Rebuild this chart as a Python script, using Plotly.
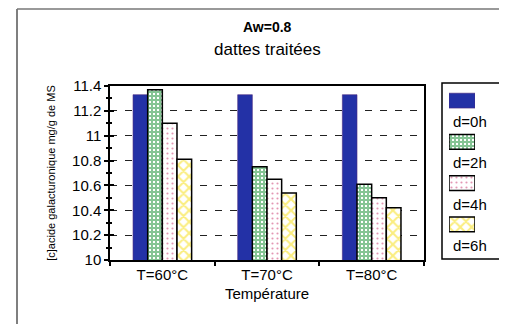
import plotly.graph_objects as go

categories = ["T=60°C", "T=70°C", "T=80°C"]
series_names = ["d=0h", "d=2h", "d=4h", "d=6h"]
values_d0 = [11.33, 11.33, 11.33]
values_d2 = [11.37, 10.75, 10.61]
values_d4 = [11.10, 10.65, 10.50]
values_d6 = [10.81, 10.54, 10.42]
series_values = [values_d0, values_d2, values_d4, values_d6]
y_tick_vals = [10, 10.2, 10.4, 10.6, 10.8, 11, 11.2, 11.4]
y_tick_text = ["10", "10.2", "10.4", "10.6", "10.8", "11", "11.2", "11.4"]

FONT = "Arial, Liberation Sans, sans-serif"

styles = [
    dict(color="#2331a6", line=dict(color="#4a2a80", width=0.6)),
    dict(color="#0c8a2a", line=dict(color="black", width=1.5),
         pattern=dict(shape="+", fgcolor="#0c8a2a", bgcolor="white", size=4, solidity=0.75)),
    dict(color="white", line=dict(color="black", width=1.5),
         pattern=dict(shape=".", fgcolor="#c8306a", bgcolor="white", size=5, solidity=0.15)),
    dict(color="#f5dc00", line=dict(color="black", width=1.5),
         pattern=dict(shape="x", fgcolor="#f5dc00", bgcolor="white", size=8, solidity=0.45)),
]

fig = go.Figure()
for name, vals, st in zip(series_names, series_values, styles):
    fig.add_trace(go.Bar(x=categories, y=vals, name=name, marker=st,
                         showlegend=False, xaxis="x", yaxis="y"))

# legend swatches (built from the same series list)
for name, st in zip(series_names, styles):
    fig.add_trace(go.Bar(x=[1], y=[name], orientation="h", marker=st,
                         width=0.36, offsetgroup="leg", showlegend=False,
                         hoverinfo="skip", xaxis="x2", yaxis="y2"))

# page body has an 8px margin: lay out in window pixels, shifted
OFF = 8
W, H = 507 - OFF, 324 - OFF
ml, mt, mb = 110 - OFF, 60 - OFF, 64
pw = W - ml
ph = H - mt - mb
x_dom_end = 314 / pw
y_dom_end = 174 / ph

def px_x(px):
    return (px - OFF - ml) / pw

def px_y(py):
    return (H - mb - (py - OFF)) / ph

axis_common = dict(showline=True, linecolor="black", linewidth=1.5, mirror=True,
                   tickcolor="black", automargin=False,
                   tickfont=dict(family=FONT, size=15, color="black"))

n_leg = len(series_names)
fig.update_layout(
    width=W, height=H,
    margin=dict(l=ml, r=0, t=mt, b=mb, autoexpand=False),
    paper_bgcolor="white", plot_bgcolor="white",
    barmode="group", bargap=0.44, bargroupgap=0,
    font=dict(family=FONT, color="black"),
    xaxis=dict(domain=[0, x_dom_end], type="category", categoryarray=categories,
               tickson="boundaries", ticks="outside", ticklen=4, tickwidth=1.5,
               showgrid=False,
               title=dict(text="Température", font=dict(family=FONT, size=15), standoff=7),
               **axis_common),
    yaxis=dict(domain=[0, y_dom_end], range=[10, 11.4], tickvals=y_tick_vals,
               ticktext=y_tick_text, ticks="outside", ticklen=4, tickwidth=1.5,
               minor=dict(dtick=0.1, ticks="outside", ticklen=2, tickcolor="black", showgrid=False),
               showgrid=True, gridcolor="#222", gridwidth=1.3, griddash="7px,8px",
               zeroline=False,
               title=dict(text="[c]acide galacturonique mg/g de MS",
                          font=dict(family=FONT, size=11), standoff=14),
               **axis_common),
    yaxis3=dict(overlaying="y", range=[10, 11.4], tickvals=y_tick_vals,
                showticklabels=False, ticks="inside", ticklen=4, tickwidth=1.5,
                tickcolor="black", automargin=False,
                minor=dict(dtick=0.1, ticks="inside", ticklen=2, tickcolor="black"),
                showgrid=False, showline=False, zeroline=False),
    xaxis2=dict(domain=[px_x(449), px_x(475)], range=[0, 1], visible=False, fixedrange=True),
    yaxis2=dict(domain=[px_y(245), px_y(80)], type="category",
                categoryarray=series_names, range=[n_leg - 0.5, -0.5],
                visible=False, fixedrange=True, anchor="x2"),
)
fig.layout.xaxis2.anchor = "y2"

# invisible trace for overlay tick axis
fig.add_trace(go.Scatter(x=[categories[0]], y=[10], mode="markers", marker=dict(opacity=0),
                         showlegend=False, hoverinfo="skip", xaxis="x", yaxis="y3"))

annotations = [
    dict(text="<b>Aw=0.8</b>", xref="paper", yref="paper", x=px_x(267), y=px_y(27),
         showarrow=False, font=dict(family=FONT, size=14), xanchor="center", yanchor="middle"),
    dict(text="dattes traitées", xref="paper", yref="paper", x=px_x(267), y=px_y(49),
         showarrow=False, font=dict(family=FONT, size=17), xanchor="center", yanchor="middle"),
]
for name in series_names:
    annotations.append(dict(text=name, xref="x2", yref="y2", x=0, y=name, yshift=-21,
                            xshift=2, xanchor="left", yanchor="middle", showarrow=False,
                            font=dict(family=FONT, size=15)))
fig.update_layout(annotations=annotations)

shapes = [
    # legend box
    dict(type="rect", xref="paper", yref="paper", x0=px_x(442), x1=px_x(501),
         y0=px_y(259), y1=px_y(83), line=dict(color="black", width=1.5)),
    # outer frame: left and top edges
    dict(type="line", xref="paper", yref="paper", x0=px_x(17), x1=px_x(17),
         y0=px_y(330), y1=px_y(9), line=dict(color="#555", width=1.5)),
    dict(type="line", xref="paper", yref="paper", x0=px_x(17), x1=px_x(530),
         y0=px_y(9), y1=px_y(9), line=dict(color="#777", width=1.5)),
]
fig.update_layout(shapes=shapes)

fig.write_html("out.html", config={"displayModeBar": False})
